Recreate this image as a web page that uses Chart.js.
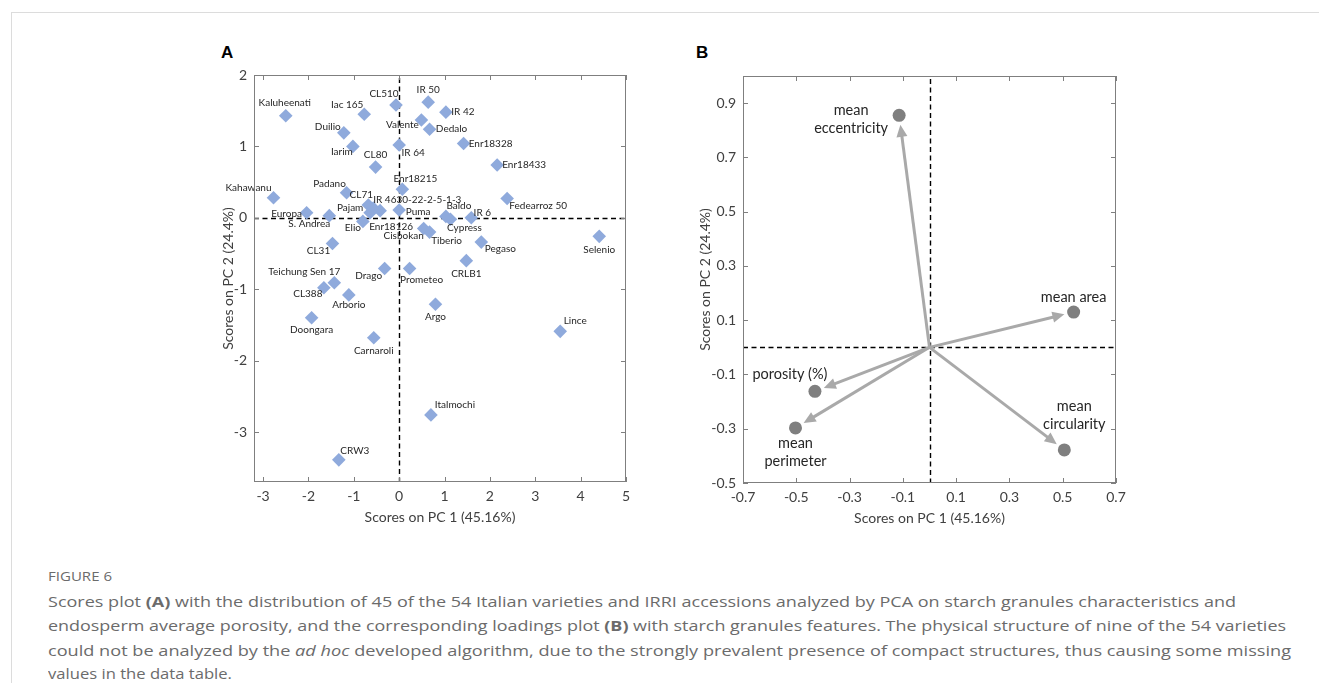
<!DOCTYPE html>
<html>
<head>
<meta charset="utf-8">
<title>Figure 6</title>
<script src="https://cdn.jsdelivr.net/npm/chart.js@4.4.0/dist/chart.umd.min.js"></script>
<style>
  body { margin: 0; background: #fff; width: 1319px; height: 683px; overflow: hidden; position: relative; font-family: Lato, sans-serif; }
  .rule-top { position: absolute; left: 11px; top: 12px; right: 0; height: 1px; background: #dcdcdc; }
  .rule-left { position: absolute; left: 11px; top: 12px; bottom: 0; width: 1px; background: #dcdcdc; }
  .panel { position: absolute; top: 40px; width: 480px; height: 500px; }
  #boxA { left: 180px; }
  #boxB { left: 660px; }
  .letter { position: absolute; top: 44px; font: bold 17px "Liberation Sans", Arial, sans-serif; line-height: 17px; color: #000; }
  .cap { position: absolute; left: 48px; white-space: nowrap; transform-origin: 0 50%; color: #6b6b6b; font-family: "Open Sans", sans-serif; }
  .cap.body { font-size: 15px; line-height: 20px; }
  .cap.fig { font-size: 12px; line-height: 16px; }
</style>
</head>
<body>
<div class="rule-top"></div>
<div class="rule-left"></div>
<div class="letter" style="left:221px">A</div>
<div class="letter" style="left:696px">B</div>
<div class="panel" id="boxA"><canvas id="scoresChart" width="480" height="500"></canvas></div>
<div class="panel" id="boxB"><canvas id="loadingsChart" width="480" height="500"></canvas></div>

<div class="cap fig" data-w="64" style="top:569px">FIGURE 6</div>
<div class="cap body" data-w="1188" style="top:591px">Scores plot <b>(A)</b> with the distribution of 45 of the 54 Italian varieties and IRRI accessions analyzed by PCA on starch granules characteristics and</div>
<div class="cap body" data-w="1238" style="top:615px">endosperm average porosity, and the corresponding loadings plot <b>(B)</b> with starch granules features. The physical structure of nine of the 54 varieties</div>
<div class="cap body" data-w="1243" style="top:640px">could not be analyzed by the <i>ad hoc</i> developed algorithm, due to the strongly prevalent presence of compact structures, thus causing some missing</div>
<div class="cap body" data-w="184" style="top:663px">values in the data table.</div>

<script>
// ---- panel A: scores ----
var varieties = ['Kaluheenati', 'Iac 165', 'CL510', 'IR 50', 'IR 42', 'Valente', 'Dedalo', 'Duilio', 'Iarim', 'IR 64',
    'Enr18328', 'CL80', 'Enr18433', 'Kahawanu', 'Padano', 'Enr18215', 'CL71', 'IR 4630-22-2-5-1-3', 'Fedearroz 50', 'Pajam',
    'Puma', 'Baldo', 'IR 6', 'Cypress', 'Europa', 'S. Andrea', 'Elio', 'Enr18126', 'Cisbokan', 'Tiberio',
    'Pegaso', 'Selenio', 'CL31', 'CRLB1', 'Teichung Sen 17', 'Drago', 'Prometeo', 'CL388', 'Arborio', 'Argo',
    'Lince', 'Doongara', 'Carnaroli', 'Italmochi', 'CRW3'];
var pc1Scores = [-2.50, -0.77, -0.07, 0.64, 1.03, 0.49, 0.67, -1.22, -1.02, 0.00,
    1.42, -0.52, 2.16, -2.77, -1.16, 0.07, -0.68, -0.57, 2.38, -0.64,
    0.00, 1.03, 1.59, 1.13, -2.04, -1.54, -0.80, -0.42, 0.54, 0.67,
    1.81, 4.41, -1.47, 1.48, -1.43, -0.32, 0.23, -1.66, -1.11, 0.80,
    3.55, -1.93, -0.56, 0.70, -1.33];
var pc2Scores = [1.43, 1.45, 1.58, 1.62, 1.48, 1.37, 1.24, 1.19, 1.00, 1.02,
    1.04, 0.71, 0.74, 0.28, 0.35, 0.40, 0.18, 0.135, 0.27, 0.07,
    0.11, 0.02, 0.00, -0.02, 0.07, 0.03, -0.05, 0.10, -0.15, -0.20,
    -0.34, -0.26, -0.36, -0.60, -0.91, -0.71, -0.71, -0.98, -1.08, -1.21,
    -1.59, -1.40, -1.68, -2.76, -3.39];
// where each name sits relative to its marker (px)
var nameNudge = [[-1, -13], [-17, -9], [-12, -11], [0, -12], [17, 0], [-19, 5], [22, 0], [-16, -6], [-11, 5], [14, 8],
    [27, 0], [0, -12], [27, 0], [-25, -10], [-17, -9], [13, -10], [-7, -10], [44, -8], [31, 7], [-20, -5],
    [19, 2], [13, -11], [11, -5], [14, 9], [-20, 1], [-20, 8], [-10, 6], [11, 16], [-20, 7], [17, 9],
    [19, 7], [0, 13], [-14, 7], [0, 13], [-30, -11], [-16, 7], [12, 11], [-16, 6], [0, 10], [0, 13],
    [15, -11], [0, 12], [0, 13], [24, -10], [16, -9]];
var scoreTicksX = [-3, -2, -1, 0, 1, 2, 3, 4, 5];
var scoreTicksY = [-3, -2, -1, 0, 1, 2];

// ---- panel B: loadings ----
var features = [['mean', 'eccentricity'], ['mean area'], ['porosity (%)'], ['mean', 'perimeter'], ['mean', 'circularity']];
var loadPC1 = [-0.114, 0.541, -0.430, -0.503, 0.506];
var loadPC2 = [0.855, 0.130, -0.162, -0.297, -0.378];
var featureNudge = [[-48, -5], [0, -15], [-25, -17], [0, 15], [10, -44]];
var loadTicksX = [-0.7, -0.5, -0.3, -0.1, 0.1, 0.3, 0.5, 0.7];
var loadTicksY = [-0.5, -0.3, -0.1, 0.1, 0.3, 0.5, 0.7, 0.9];

var axisGrey = '#7f7f7f';
var textDark = '#404040';

// border box, inward ticks on all four sides, dashed zero lines
var framePlugin = {
    id: 'frame',
    beforeDatasetsDraw: function (chart) {
        var ctx = chart.ctx, a = chart.chartArea;
        var x0 = Math.round(chart.scales.x.getPixelForValue(0)) + 0.5;
        var y0 = Math.round(chart.scales.y.getPixelForValue(0)) + 0.5;
        ctx.save();
        ctx.strokeStyle = '#000';
        ctx.lineWidth = 1.4;
        ctx.setLineDash([5, 3.5]);
        ctx.beginPath();
        ctx.moveTo(x0, a.top + 3); ctx.lineTo(x0, a.bottom);
        ctx.moveTo(a.left, y0); ctx.lineTo(a.right, y0);
        ctx.stroke();
        ctx.restore();
    },
    afterDraw: function (chart) {
        var ctx = chart.ctx, a = chart.chartArea, sx = chart.scales.x, sy = chart.scales.y;
        ctx.save();
        ctx.strokeStyle = axisGrey;
        ctx.lineWidth = 1;
        ctx.strokeRect(a.left + 0.5, a.top + 0.5, a.right - a.left - 1, a.bottom - a.top - 1);
        ctx.beginPath();
        sx.ticks.forEach(function (t) {
            var px = Math.round(sx.getPixelForValue(t.value)) + 0.5;
            ctx.moveTo(px, a.bottom); ctx.lineTo(px, a.bottom - 5);
            ctx.moveTo(px, a.top); ctx.lineTo(px, a.top + 5);
        });
        sy.ticks.forEach(function (t) {
            var py = Math.round(sy.getPixelForValue(t.value)) + 0.5;
            ctx.moveTo(a.left, py); ctx.lineTo(a.left + 5, py);
            ctx.moveTo(a.right, py); ctx.lineTo(a.right - 5, py);
        });
        ctx.stroke();
        ctx.restore();
    }
};

var namesPlugin = {
    id: 'names',
    afterDatasetsDraw: function (chart) {
        var ctx = chart.ctx;
        var pts = chart.getDatasetMeta(0).data;
        ctx.save();
        ctx.font = '10px Lato';
        ctx.fillStyle = '#262626';
        ctx.textAlign = 'center';
        ctx.textBaseline = 'middle';
        for (var i = 0; i < pts.length; i++) {
            ctx.fillText(varieties[i], pts[i].x + nameNudge[i][0], pts[i].y + nameNudge[i][1]);
        }
        ctx.restore();
    }
};

var arrowsPlugin = {
    id: 'arrows',
    beforeDatasetsDraw: function (chart) {
        var ctx = chart.ctx;
        var ox = chart.scales.x.getPixelForValue(0), oy = chart.scales.y.getPixelForValue(0);
        var pts = chart.getDatasetMeta(0).data;
        ctx.save();
        ctx.strokeStyle = '#a9a9a9';
        ctx.fillStyle = '#a9a9a9';
        ctx.lineWidth = 3;
        pts.forEach(function (p) {
            var dx = p.x - ox, dy = p.y - oy, len = Math.sqrt(dx * dx + dy * dy);
            var ux = dx / len, uy = dy / len;
            var tipX = p.x - ux * 9.5, tipY = p.y - uy * 9.5;
            var baseX = tipX - ux * 12, baseY = tipY - uy * 12;
            ctx.beginPath();
            ctx.moveTo(ox, oy);
            ctx.lineTo(baseX + ux * 2, baseY + uy * 2);
            ctx.stroke();
            ctx.beginPath();
            ctx.moveTo(tipX, tipY);
            ctx.lineTo(baseX - uy * 5.5, baseY + ux * 5.5);
            ctx.lineTo(baseX + uy * 5.5, baseY - ux * 5.5);
            ctx.closePath();
            ctx.fill();
        });
        ctx.restore();
    },
    afterDatasetsDraw: function (chart) {
        var ctx = chart.ctx;
        var pts = chart.getDatasetMeta(0).data;
        ctx.save();
        ctx.font = '14.5px Lato';
        ctx.fillStyle = '#262626';
        ctx.textAlign = 'center';
        ctx.textBaseline = 'middle';
        pts.forEach(function (p, i) {
            features[i].forEach(function (line, k) {
                ctx.fillText(line, p.x + featureNudge[i][0], p.y + featureNudge[i][1] + k * 18);
            });
        });
        ctx.restore();
    }
};

function fixedTicks(list) {
    return function (scale) {
        scale.ticks = list.map(function (v) { return { value: v }; });
    };
}

function axisSet(xr, yr, xt, yt, yWidth, digits) {
    var tickFont = { family: 'Lato', size: 14 };
    var titleFont = { family: 'Lato', size: 14 };
    return {
        x: {
            type: 'linear', min: xr[0], max: xr[1],
            afterBuildTicks: fixedTicks(xt),
            afterFit: function (s) { s.height = 48; },
            grid: { display: false, drawTicks: false },
            border: { display: false },
            ticks: { font: tickFont, color: textDark, padding: 6, maxRotation: 0, autoSkip: false,
                callback: function (v) { return digits ? v.toFixed(digits) : String(v); } },
            title: { display: true, text: 'Scores on PC 1 (45.16%)', font: titleFont, color: textDark }
        },
        y: {
            type: 'linear', min: yr[0], max: yr[1],
            afterBuildTicks: fixedTicks(yt),
            afterFit: function (s) { s.width = yWidth; },
            grid: { display: false, drawTicks: false },
            border: { display: false },
            ticks: { font: tickFont, color: textDark, padding: 7, autoSkip: false,
                callback: function (v) { return digits ? v.toFixed(digits) : String(v); } },
            title: { display: true, text: 'Scores on PC 2 (24.4%)', font: titleFont, color: textDark }
        }
    };
}

new Chart(document.getElementById('scoresChart'), {
    type: 'scatter',
    data: {
        datasets: [{
            data: pc1Scores.map(function (v, i) { return { x: v, y: pc2Scores[i] }; }),
            pointStyle: 'rectRot',
            pointRadius: 6.8,
            backgroundColor: '#8faadc',
            borderWidth: 0
        }]
    },
    options: {
        responsive: false,
        animation: false,
        events: [],
        layout: { padding: { left: 36, top: 35, right: 34, bottom: 10 } },
        plugins: { legend: { display: false }, tooltip: { enabled: false } },
        scales: axisSet([-3.2, 5], [-3.7, 2], scoreTicksX, scoreTicksY, 38, 0)
    },
    plugins: [framePlugin, namesPlugin]
});

new Chart(document.getElementById('loadingsChart'), {
    type: 'scatter',
    data: {
        datasets: [{
            data: loadPC1.map(function (v, i) { return { x: v, y: loadPC2[i] }; }),
            pointStyle: 'circle',
            pointRadius: 6.5,
            backgroundColor: '#7f7f7f',
            borderWidth: 0
        }]
    },
    options: {
        responsive: false,
        animation: false,
        events: [],
        layout: { padding: { left: 33, top: 36, right: 24, bottom: 9 } },
        plugins: { legend: { display: false }, tooltip: { enabled: false } },
        scales: axisSet([-0.7, 0.7], [-0.5, 1.0], loadTicksX, loadTicksY, 50, 1)
    },
    plugins: [framePlugin, arrowsPlugin]
});

// squeeze caption lines to the widths of the printed figure
document.querySelectorAll('.cap').forEach(function (el) {
    var w = el.getBoundingClientRect().width;
    el.style.transform = 'scaleX(' + (parseFloat(el.getAttribute('data-w')) / w) + ')';
});
</script>
</body>
</html>
